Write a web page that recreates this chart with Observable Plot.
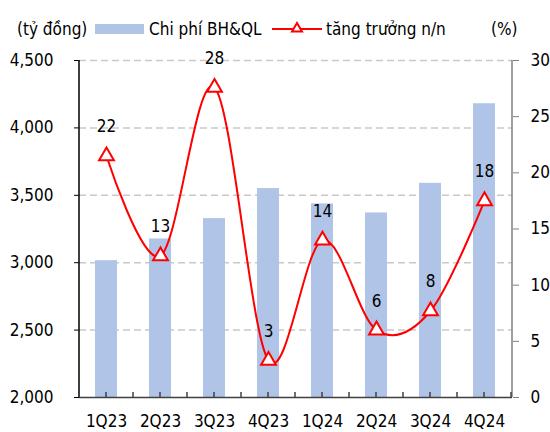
<!DOCTYPE html>
<html>
<head>
<meta charset="utf-8">
<script src="https://cdn.jsdelivr.net/npm/d3@7"></script>
<script src="https://cdn.jsdelivr.net/npm/@observablehq/plot@0.6"></script>
<style>
  body { margin: 0; background: white; }
  #wrap { position: relative; width: 550px; height: 432px; font-family: "DejaVu Sans Condensed", "DejaVu Sans", sans-serif; font-size: 17px; color: #000; }
  #legend { position: relative; height: 45px; }
  #legend span, #legend div { position: absolute; white-space: nowrap; line-height: 20px; }
</style>
</head>
<body>
<div id="wrap">
  <div id="legend"></div>
  <div id="chart"></div>
</div>
<script>
const quarters = ["1Q23", "2Q23", "3Q23", "4Q23", "1Q24", "2Q24", "3Q24", "4Q24"];
const costs = [3015, 3176, 3327, 3550, 3436, 3369, 3589, 4179];
const growth = [21.5, 12.6, 27.6, 3.3, 14.0, 6.0, 7.7, 17.5];
const growthLabels = ["22", "13", "28", "3", "14", "6", "8", "18"];
const leftTicks = [2000, 2500, 3000, 3500, 4000, 4500];
const rightTicks = [0, 5, 10, 15, 20, 25, 30];
const leftUnit = "(tỷ đồng)";
const rightUnit = "(%)";
const barName = "Chi phí BH&QL";
const lineName = "tăng trưởng n/n";

const FONT = '"DejaVu Sans Condensed", "DejaVu Sans", sans-serif';
const BAR = "#afc4e6";
const RED = "#ff0000";
const L0 = 2000, L1 = 4500, R0 = 0, R1 = 30;
const toLeft = v => L0 + (v - R0) * (L1 - L0) / (R1 - R0);
const fromLeft = v => R0 + (v - L0) * (R1 - R0) / (L1 - L0);

const table = quarters.map((q, i) => ({q, cost: costs[i], g: growth[i], label: growthLabels[i]}));

// Legend (HTML, above the SVG)
const legend = document.getElementById("legend");
legend.innerHTML = `
  <span style="left:17px; top:19px">${leftUnit}</span>
  <div style="left:95px; top:24px; width:49px; height:10px; background:${BAR}; line-height:0"></div>
  <span style="left:149px; top:19px">${barName}</span>
  <svg style="position:absolute; left:271px; top:19px" width="52" height="20">
    <line x1="1" x2="51" y1="10" y2="10" stroke="${RED}" stroke-width="2"/>
    <path d="M26,4 L31,12.5 L21,12.5 Z" fill="white" stroke="${RED}" stroke-width="2"/>
  </svg>
  <span style="left:326px; top:19px">${lineName}</span>
  <span style="left:491px; top:19px">${rightUnit}</span>
`;

const chart = Plot.plot({
  width: 550,
  height: 387,
  marginTop: 15,
  marginBottom: 35,
  marginLeft: 79,
  marginRight: 38,
  style: {fontFamily: FONT, fontSize: "17px", color: "#000", background: "white", overflow: "visible"},
  x: {domain: quarters, paddingInner: 0.59, paddingOuter: 0.295, label: null},
  y: {domain: [L0, L1], label: null},
  marks: [
    Plot.ruleY(leftTicks.slice(1), {stroke: "#c9c9c9", strokeWidth: 1.5, strokeDasharray: "7,4"}),
    Plot.barY(table, {x: "q", y1: () => L0, y2: "cost", fill: BAR}),
    Plot.axisY(leftTicks, {anchor: "left", tickSize: 5, tickPadding: 21, tickFormat: d3.format(","), stroke: "#000", fill: "#000", fontSize: 17}),
    Plot.axisY(rightTicks.map(toLeft), {anchor: "right", tickSize: 6, tickPadding: 12, tickFormat: d => String(Math.round(fromLeft(d))), stroke: "#808080", fill: "#000", fontSize: 17}),
    Plot.axisX({anchor: "bottom", tickSize: 0, tickPadding: 17, fill: "#000", fontSize: 17}),
    Plot.ruleY([L0], {stroke: "#404040", strokeWidth: 1.5}),
    Plot.line(table, {x: "q", y: d => toLeft(d.g), stroke: RED, strokeWidth: 2, curve: "cardinal", tension: 0}),
    Plot.dot(table, {x: "q", y: d => toLeft(d.g), symbol: "triangle", r: 5.5, stroke: RED, strokeWidth: 2, fill: "white"}),
    Plot.text(table, {x: "q", y: d => toLeft(d.g), text: "label", dy: -29, fill: "#000", fontSize: 17})
  ]
});
document.getElementById("chart").appendChild(chart);

// axis lines and category tick marks derived from the scales
const xs = chart.scale("x");
const ys = chart.scale("y");
const svg = d3.select(chart);
const yb = ys.apply(L0), yt = ys.apply(L1);
const xl = 79, xr = 550 - 38;
const g = svg.append("g");
g.append("line").attr("x1", xl).attr("x2", xl).attr("y1", yt).attr("y2", yb).attr("stroke", "#000").attr("stroke-width", 1.5);
g.append("line").attr("x1", xr).attr("x2", xr).attr("y1", yt).attr("y2", yb).attr("stroke", "#808080").attr("stroke-width", 1.5);
const step = xs.step;
const tickXs = [];
quarters.forEach(q => {
  const c = xs.apply(q) + xs.bandwidth / 2;
  tickXs.push(c, c - step / 2);
});
tickXs.push(xs.apply(quarters[quarters.length - 1]) + xs.bandwidth / 2 + step / 2);
tickXs.forEach(x => {
  g.append("line").attr("x1", x).attr("x2", x).attr("y1", yb).attr("y2", yb - 5).attr("stroke", "#404040").attr("stroke-width", 1.5);
});
</script>
</body>
</html>
